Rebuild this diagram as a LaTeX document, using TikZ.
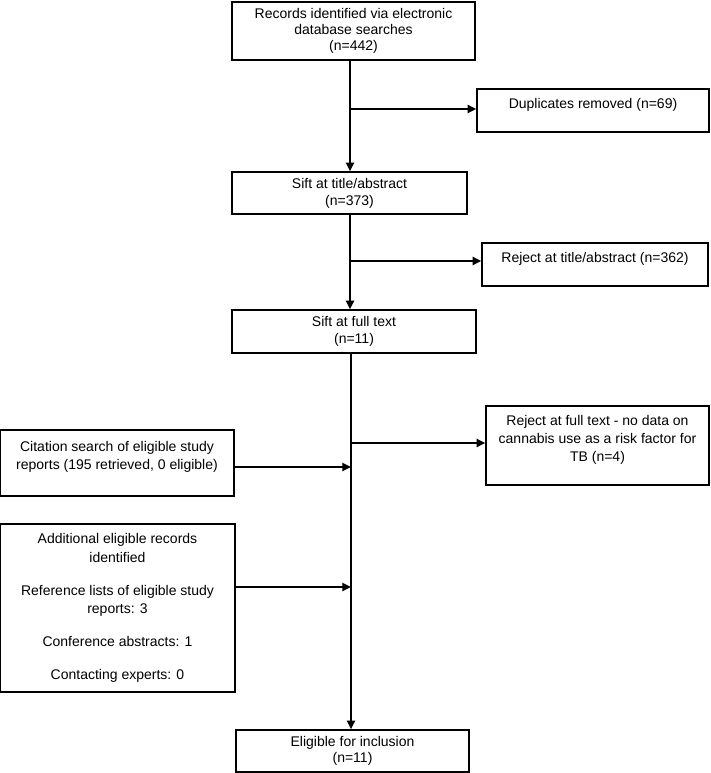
\documentclass[tikz,border=0pt]{standalone}
\usepackage{fontspec}
\setmainfont{Liberation Sans}
\usetikzlibrary{arrows.meta}

\tikzset{every picture/.style={line width=0.75pt}}
\tikzset{
  flowbox/.style={draw, line width=1.1pt, inner sep=0.75pt, align=center,
    font=\fontsize{10.5}{12.75}\selectfont},
  raised/.style={text depth=11pt},
  flowarrow/.style={line width=1.8pt, -{Triangle[length=6.5pt,width=6pt]}}
}

\begin{document}
\begin{tikzpicture}[x=0.75pt,y=0.75pt,yscale=-1,xscale=1]
\useasboundingbox (0,0) rectangle (710,773);

%Shape: Rectangle [records]
\node [flowbox, minimum width=182.25pt, minimum height=43.5pt, font=\fontsize{10.5}{12}\selectfont] (records) at (353.5,31) {Records identified via electronic\\database searches\\(n=442)};
%Shape: Rectangle [duplicates]
\node [flowbox, raised, minimum width=174pt, minimum height=32.25pt] (duplicates) at (593,110.5) {Duplicates removed (n=69)};
%Shape: Rectangle [sift title]
\node [flowbox, minimum width=176.25pt, minimum height=31.5pt] (siftTitle) at (349.5,193) {Sift at title/abstract\\(n=373)};
%Shape: Rectangle [reject title]
\node [flowbox, raised, minimum width=169.5pt, minimum height=32.25pt] (rejectTitle) at (595,264.5) {Reject at title/abstract (n=362)};
%Shape: Rectangle [sift full]
\node [flowbox, minimum width=183pt, minimum height=32.25pt] (siftFull) at (354,331.5) {Sift at full text\\(n=11)};
%Shape: Rectangle [reject full]
\node [flowbox, raised, minimum width=167.25pt, minimum height=59.25pt, font=\fontsize{10.5}{13.5}\selectfont] (rejectFull) at (597.5,445.5) {Reject at full text - no data on\\cannabis use as a risk factor for\\TB (n=4)};
%Shape: Rectangle [citation]
\node [flowbox, raised, minimum width=175.5pt, minimum height=49.5pt, font=\fontsize{10.5}{13.5}\selectfont] (citation) at (117,463) {Citation search of eligible study\\reports (195 retrieved, 0 eligible)};
%Shape: Rectangle [additional]
\node [flowbox, minimum width=176.25pt, minimum height=126pt, font=\fontsize{10.5}{14}\selectfont] (additional) at (117.5,608) {Additional eligible records\\identified\\[10.5pt]Reference lists of eligible study\\reports: 3\\[10.5pt]Conference abstracts: 1\\[10.5pt]Contacting experts: 0};
%Shape: Rectangle [eligible]
\node [flowbox, minimum width=174.75pt, minimum height=31.5pt, font=\fontsize{10.5}{12}\selectfont] (eligible) at (352.5,751) {Eligible for inclusion\\(n=11)};

%Coordinates on the trunk
\coordinate (trunk) at (350,0);
\coordinate (dupJoin) at (350,109);
\coordinate (rejTitleJoin) at (350,261);
\coordinate (rejFullJoin) at (351,443);
\coordinate (citJoin) at (351,467);
\coordinate (addJoin) at (351,587);

%Straight Lines [trunk]
\draw [flowarrow] (records.south -| trunk) -- (siftTitle.north -| trunk);
\draw [flowarrow] (siftTitle.south -| trunk) -- (siftFull.north -| trunk);
\draw [flowarrow] (siftFull.south -| citJoin) -- (eligible.north -| citJoin);
%Straight Lines [branches]
\draw [flowarrow] (dupJoin) -- (dupJoin -| duplicates.west);
\draw [flowarrow] (rejTitleJoin) -- (rejTitleJoin -| rejectTitle.west);
\draw [flowarrow] (rejFullJoin) -- (rejFullJoin -| rejectFull.west);
\draw [flowarrow] (citJoin -| citation.east) -- (citJoin);
\draw [flowarrow] (addJoin -| additional.east) -- (addJoin);

\end{tikzpicture}
\end{document}
